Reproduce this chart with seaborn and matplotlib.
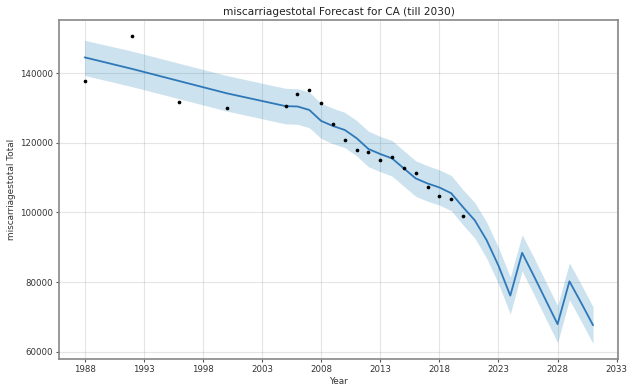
import numpy as np
import pandas as pd
import matplotlib
matplotlib.use("Agg")
import matplotlib.pyplot as plt
import seaborn as sns

# observed yearly totals
hist_years = [1988, 1992, 1996, 2000, 2005, 2006, 2007, 2008, 2009, 2010, 2011, 2012,
              2013, 2014, 2015, 2016, 2017, 2018, 2019, 2020]
hist_values = [137800, 150700, 131600, 130000, 130400, 133950, 135200, 131350, 125300,
               120800, 118000, 117400, 115000, 116000, 112800, 111350, 107150, 104650,
               103850, 98950]

# forecast (fit + future)
fc_years = [1988, 1992, 1996, 2000, 2005, 2006, 2007, 2008, 2009, 2010, 2011, 2012, 2013,
            2014, 2015, 2016, 2017, 2018, 2019, 2020, 2021, 2022, 2023, 2024, 2025, 2026,
            2027, 2028, 2029, 2030, 2031]
fc_yhat = [144500, 141200, 137700, 134200, 130500, 130400, 129400, 126250, 124800, 123650,
           121300, 118200, 116750, 115500, 112600, 109750, 108300, 107150, 105500, 101500,
           97700, 92000, 84700, 76100, 88400, 81700, 74800, 67900, 80200, 74000, 67600]
fc_upper = [149400, 146300, 142800, 139300, 135600, 135500, 134500, 131300, 129900, 128700,
            126400, 123300, 121800, 120600, 117700, 114800, 113400, 112200, 110600, 106500,
            102800, 97200, 89900, 81400, 93600, 87000, 80100, 73200, 85500, 79300, 72900]
fc_lower = [139300, 136100, 132600, 129100, 125400, 125300, 124300, 121200, 119700, 118600,
            116200, 113100, 111700, 110400, 107500, 104600, 103200, 102100, 100500, 96400,
            92600, 86800, 79500, 70800, 83200, 76400, 69500, 62600, 74900, 68700, 62300]

x_ticks = [1988, 1993, 1998, 2003, 2008, 2013, 2018, 2023, 2028, 2033]
y_ticks = [60000, 80000, 100000, 120000, 140000]

hist = pd.DataFrame({"ds": hist_years, "y": hist_values})
fc = pd.DataFrame({"ds": fc_years, "yhat": fc_yhat, "lo": fc_lower, "hi": fc_upper})

sns.set_style("white")
plt.rcParams["font.family"] = ["DejaVu Sans"]

fig = plt.figure(figsize=(6.34, 3.92), dpi=100)
ax = fig.add_axes([0.0935, 0.084, 0.882, 0.864])

ax.fill_between(fc["ds"], fc["lo"], fc["hi"], color="#0072B2", alpha=0.2, linewidth=0)
sns.lineplot(data=fc, x="ds", y="yhat", ax=ax, color="#2f78b8", linewidth=1.3)
sns.scatterplot(data=hist, x="ds", y="y", ax=ax, color="black", s=7, linewidth=0, zorder=3)

ax.set_xticks(x_ticks)
ax.set_yticks(y_ticks)
ax.margins(x=0.05, y=0.05)
ax.grid(True, color="gray", linestyle="-", linewidth=0.8, alpha=0.2)
ax.tick_params(axis="both", labelsize=6.2, length=2.5, width=0.8, color="#555555",
               labelcolor="#333333", bottom=True, left=True, pad=2)
for s in ax.spines.values():
    s.set_color("#888888")
    s.set_linewidth(1.2)

ax.set_title("miscarriagestotal Forecast for CA (till 2030)", fontsize=7.6, color="#222222", pad=4)
ax.set_xlabel("Year", fontsize=6.4, color="#333333", labelpad=2)
ax.set_ylabel("miscarriagestotal Total", fontsize=6.4, color="#333333", labelpad=3)

fig.savefig("out.png", dpi=100, facecolor="white")
